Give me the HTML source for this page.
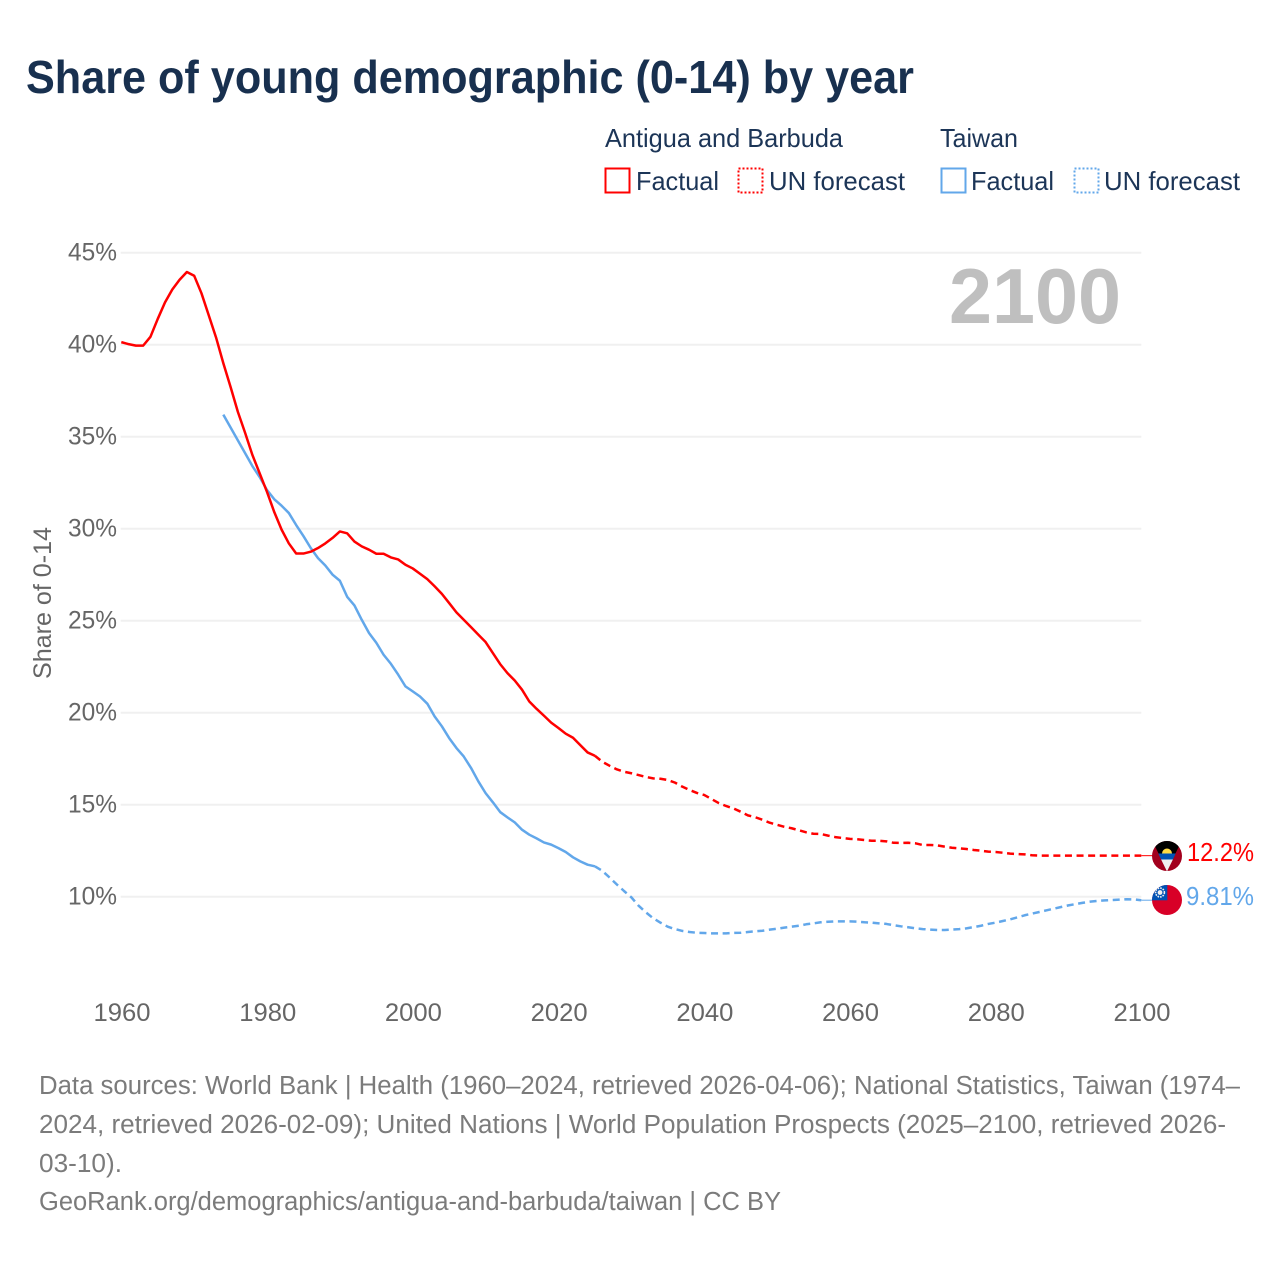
<!DOCTYPE html>
<html lang="en">
<head>
<meta charset="utf-8">
<title>Share of young demographic (0-14) by year</title>
<style>
html,body{margin:0;padding:0;background:#fff;}
svg{display:block;font-family:"Liberation Sans",sans-serif;}
</style>
</head>
<body>
<svg id="chart" xmlns="http://www.w3.org/2000/svg" width="1280" height="1280" viewBox="0 0 1280 1280">
  <rect width="1280" height="1280" fill="#fff"/>
  <text x="26" y="93" font-size="46" font-weight="700" fill="#18304f" textLength="888" lengthAdjust="spacingAndGlyphs">Share of young demographic (0-14) by year</text>

  <g font-size="26" fill="#1c3557">
    <text x="605" y="147" textLength="238" lengthAdjust="spacingAndGlyphs">Antigua and Barbuda</text>
    <text x="940" y="147" textLength="78" lengthAdjust="spacingAndGlyphs">Taiwan</text>
    <rect x="605.5" y="168.5" width="24" height="24" fill="none" stroke="#ff0000" stroke-width="2"/>
    <text x="636" y="190" textLength="83" lengthAdjust="spacingAndGlyphs">Factual</text>
    <rect x="738.5" y="168.5" width="24" height="24" fill="none" stroke="#ff0000" stroke-width="2" stroke-dasharray="2 2"/>
    <text x="769" y="190" textLength="136" lengthAdjust="spacingAndGlyphs">UN forecast</text>
    <rect x="941.5" y="168.5" width="24" height="24" fill="none" stroke="#62a7ea" stroke-width="2"/>
    <text x="971" y="190" textLength="83" lengthAdjust="spacingAndGlyphs">Factual</text>
    <rect x="1074.5" y="168.5" width="24" height="24" fill="none" stroke="#62a7ea" stroke-width="2" stroke-dasharray="2 2"/>
    <text x="1104" y="190" textLength="136" lengthAdjust="spacingAndGlyphs">UN forecast</text>
  </g>

  <g id="grid"></g>
  <g id="yticks"></g>
  <g id="xticks"></g>

  <text transform="translate(51,679) rotate(-90)" font-size="25" fill="#666" textLength="152" lengthAdjust="spacingAndGlyphs">Share of 0-14</text>
  <text x="949" y="323" font-size="78" font-weight="700" fill="#bfbfbf" textLength="172" lengthAdjust="spacingAndGlyphs">2100</text>

  <g id="series"></g>

  <defs>
    <clipPath id="clip-ag"><circle cx="1167" cy="856" r="15"/></clipPath>
    <clipPath id="clip-tw"><circle cx="1167" cy="900" r="15"/></clipPath>
  </defs>
  <g clip-path="url(#clip-ag)">
    <rect x="1150" y="838" width="34" height="36" fill="#a2001d"/>
    <polygon points="1152,840 1182,840 1167,871" fill="#000"/>
    <circle cx="1167" cy="853.5" r="5" fill="#ffda44"/>
    <polygon points="1158.3,853.5 1175.7,853.5 1172.9,859.5 1161.1,859.5" fill="#0052b4"/>
    <polygon points="1161.1,859.5 1172.9,859.5 1167,871.5" fill="#f0f0f0"/>
  </g>
  <g clip-path="url(#clip-tw)">
    <rect x="1150" y="882" width="34" height="36" fill="#d80027"/>
    <rect x="1150" y="882" width="17.3" height="18.3" fill="#0052b4"/>
    <circle cx="1160" cy="892.5" r="4.4" fill="none" stroke="#f0f0f0" stroke-width="1.6" stroke-dasharray="1.6 1"/>
    <circle cx="1160" cy="892.5" r="2.4" fill="#f0f0f0"/>
  </g>

  <text x="1187" y="861" font-size="25.5" fill="#ff0000" textLength="67" lengthAdjust="spacingAndGlyphs">12.2%</text>
  <text x="1186" y="905" font-size="25.5" fill="#62a7ea" textLength="68" lengthAdjust="spacingAndGlyphs">9.81%</text>

  <g font-size="25.5" fill="#7b7b7b">
    <text x="39" y="1094" textLength="1201" lengthAdjust="spacingAndGlyphs">Data sources: World Bank | Health (1960–2024, retrieved 2026-04-06); National Statistics, Taiwan (1974–</text>
    <text x="39" y="1133" textLength="1187" lengthAdjust="spacingAndGlyphs">2024, retrieved 2026-02-09); United Nations | World Population Prospects (2025–2100, retrieved 2026-</text>
    <text x="39" y="1172" textLength="83" lengthAdjust="spacingAndGlyphs">03-10).</text>
    <text x="39" y="1210" textLength="742" lengthAdjust="spacingAndGlyphs">GeoRank.org/demographics/antigua-and-barbuda/taiwan | CC BY</text>
  </g>
</svg>

<script>
const yTickValues = [45, 40, 35, 30, 25, 20, 15, 10];
const xTickYears = [1960, 1980, 2000, 2020, 2040, 2060, 2080, 2100];

const antiguaFactualStart = 1960;
const antiguaFactual = [40.14,40.03,39.95,39.95,40.43,41.4,42.3,43.0,43.53,43.95,43.75,42.8,41.6,40.4,39.0,37.7,36.35,35.2,34.0,33.0,32.0,30.9,29.95,29.2,28.65,28.65,28.75,28.95,29.2,29.5,29.85,29.75,29.3,29.04,28.86,28.64,28.64,28.44,28.33,28.04,27.84,27.55,27.26,26.87,26.46,25.96,25.45,25.05,24.65,24.24,23.84,23.24,22.64,22.15,21.75,21.25,20.61,20.21,19.84,19.46,19.17,18.86,18.64,18.24,17.84,17.66];

const antiguaForecastStart = 2025;
const antiguaForecast = [17.66,17.34,17.12,16.92,16.79,16.71,16.61,16.51,16.43,16.41,16.34,16.2,15.98,15.8,15.64,15.53,15.31,15.09,14.93,14.8,14.62,14.42,14.32,14.18,14.02,13.91,13.8,13.72,13.61,13.5,13.42,13.41,13.32,13.24,13.19,13.14,13.12,13.08,13.04,13.04,13.01,12.93,12.92,12.93,12.9,12.81,12.81,12.79,12.72,12.66,12.63,12.59,12.54,12.5,12.45,12.43,12.39,12.34,12.32,12.3,12.25,12.23,12.23,12.23,12.23,12.23,12.23,12.23,12.23,12.23,12.23,12.23,12.23,12.23,12.23,12.23];

const taiwanFactualStart = 1974;
const taiwanFactual = [36.2,35.5,34.8,34.1,33.4,32.8,32.1,31.6,31.25,30.85,30.2,29.6,28.95,28.4,28.0,27.5,27.17,26.3,25.83,25.05,24.33,23.8,23.15,22.66,22.07,21.43,21.16,20.88,20.49,19.8,19.26,18.62,18.08,17.62,17.0,16.27,15.63,15.13,14.6,14.31,14.04,13.64,13.37,13.17,12.95,12.83,12.64,12.43,12.14,11.92,11.74,11.65];

const taiwanForecastStart = 2025;
const taiwanForecast = [11.65,11.41,11.05,10.67,10.31,9.97,9.51,9.15,8.83,8.59,8.37,8.24,8.14,8.08,8.04,8.03,8.01,8.01,8.01,8.03,8.04,8.08,8.12,8.15,8.21,8.26,8.32,8.37,8.42,8.5,8.55,8.61,8.64,8.66,8.66,8.66,8.64,8.61,8.59,8.55,8.52,8.45,8.39,8.34,8.28,8.24,8.21,8.19,8.19,8.21,8.24,8.28,8.35,8.42,8.52,8.59,8.68,8.77,8.88,8.99,9.08,9.17,9.26,9.35,9.44,9.53,9.6,9.67,9.73,9.77,9.8,9.82,9.84,9.86,9.85,9.81];

const SVG_NS = 'http://www.w3.org/2000/svg';
const xAxis = year => 121.3 + (year - 1960) * (1020 / 140);
const yAxis = value => 896.7 - (value - 10) * 18.4;

function svgEl(tag, attrs, parent) {
  const el = document.createElementNS(SVG_NS, tag);
  Object.keys(attrs).forEach(k => el.setAttribute(k, attrs[k]));
  parent.appendChild(el);
  return el;
}

const grid = document.getElementById('grid');
const yticks = document.getElementById('yticks');
const xticks = document.getElementById('xticks');
const series = document.getElementById('series');

yTickValues.forEach(v => {
  const line = svgEl('line', {x1: 120.7, x2: 1141.3, y1: yAxis(v), y2: yAxis(v), stroke: '#f0f0f0', 'stroke-width': 2}, grid);
  
  
  const label = svgEl('text', {x: 68, y: yAxis(v) + 8, 'font-size': 25, fill: '#666', textLength: 49, lengthAdjust: 'spacingAndGlyphs'}, yticks);
  label.textContent = v + '%';
  
  
});

xTickYears.forEach(y => {
  const label = svgEl('text', {x: xAxis(y) + 0.7 - 28.5, y: 1021, 'font-size': 25, fill: '#666', textLength: 57, lengthAdjust: 'spacingAndGlyphs'}, xticks);
  label.textContent = y;
  
  
});

function points(start, values) {
  return values.map((v, i) => xAxis(start + i).toFixed(2) + ',' + yAxis(v).toFixed(2)).join(' ');
}

function drawLine(start, values, color, dashed) {
  const attrs = {points: points(start, values), fill: 'none', stroke: color, 'stroke-width': 2.5, 'stroke-linejoin': 'round'};
  if (dashed) attrs['stroke-dasharray'] = '7 4.6';
  return svgEl('polyline', attrs, series);
}

const lineTaiwanFactual = drawLine(taiwanFactualStart, taiwanFactual, '#62a7ea', false);



const lineTaiwanForecast = drawLine(taiwanForecastStart, taiwanForecast, '#62a7ea', true);



const lineAntiguaFactual = drawLine(antiguaFactualStart, antiguaFactual, '#ff0000', false);



const lineAntiguaForecast = drawLine(antiguaForecastStart, antiguaForecast, '#ff0000', true);



const connectorAntigua = svgEl('line', {x1: xAxis(2100), x2: 1153, y1: yAxis(antiguaForecast[antiguaForecast.length - 1]), y2: yAxis(antiguaForecast[antiguaForecast.length - 1]), stroke: '#ff0000', 'stroke-width': 1}, series);



const connectorTaiwan = svgEl('line', {x1: xAxis(2100), x2: 1153, y1: yAxis(taiwanForecast[taiwanForecast.length - 1]), y2: yAxis(taiwanForecast[taiwanForecast.length - 1]), stroke: '#62a7ea', 'stroke-width': 1}, series);


</script>
</body>
</html>
